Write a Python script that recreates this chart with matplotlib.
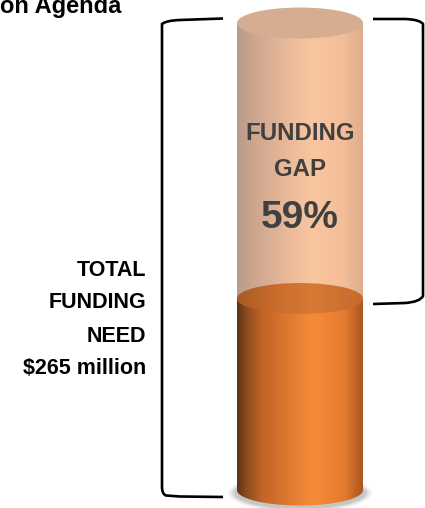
import numpy as np
import matplotlib
matplotlib.use("Agg")
import matplotlib.pyplot as plt
from matplotlib.colors import LinearSegmentedColormap
from matplotlib.patches import Ellipse, PathPatch
from matplotlib.path import Path

# Figures
title_text = "on Agenda"
total_label = ["TOTAL", "FUNDING", "NEED", "$265 million"]
gap_label = ["FUNDING", "GAP"]
total_need_musd = 265
gap_pct = 59
funded_pct = 100 - gap_pct

plt.rcParams['font.family'] = ['Liberation Sans', 'DejaVu Sans']

W, H = 425, 508
fig = plt.figure(figsize=(W / 100, H / 100), dpi=100)
ax = fig.add_axes([0, 0, 1, 1])
ax.set_xlim(0, W)
ax.set_ylim(H, 0)
ax.axis('off')

# cylinder geometry (pixel space)
x0, x1 = 237, 363
cx = (x0 + x1) / 2
rx = (x1 - x0) / 2
ry = 15.5
y_top, y_bot = 23, 490
level = y_bot - funded_pct / 100 * (y_bot - y_top)

peach = LinearSegmentedColormap.from_list("peach", [
    (0.0, "#b89c8c"), (0.12, "#caa58e"), (0.45, "#efbd9b"),
    (0.62, "#f9c6a0"), (0.85, "#f2bd98"), (1.0, "#ddae8e")])
orange = LinearSegmentedColormap.from_list("orange", [
    (0.0, "#5a3217"), (0.07, "#8a4a1f"), (0.2, "#c26426"),
    (0.5, "#ea8236"), (0.62, "#f88b37"), (0.86, "#e27a30"), (1.0, "#a9561d")])
orange_top = LinearSegmentedColormap.from_list("otop", [
    (0.0, "#a85a24"), (0.3, "#c96c2c"), (0.6, "#d87a34"), (1.0, "#c46a2c")])

grad = np.linspace(0, 1, 256).reshape(1, -1)


def body_path(ya, yb, bottom_round=True):
    verts = [(x0, ya), (x1, ya)]
    if bottom_round:
        verts += [(cx + rx * np.cos(a), yb + ry * np.sin(a)) for a in np.linspace(0, np.pi, 60)]
    else:
        verts += [(x1, yb), (x0, yb)]
    verts.append((x0, ya))
    return Path(verts, closed=False)


# shadow under the base
for i, a in enumerate(np.linspace(0.05, 0.25, 6)):
    ax.add_patch(Ellipse((cx, y_bot + 3), 2 * rx + 20 - 3 * i, 2 * ry + 8 - 1.5 * i,
                         facecolor="#808080", edgecolor="none", alpha=a * 0.6, zorder=1))

# funded part
p = PathPatch(body_path(level, y_bot), facecolor="none", edgecolor="none")
ax.add_patch(p)
im = ax.imshow(grad, cmap=orange, extent=(x0, x1, y_bot + ry + 1, level), aspect='auto', zorder=2)
im.set_clip_path(p)

# gap part (upper, translucent)
p2 = PathPatch(body_path(y_top, level, bottom_round=False), facecolor="none", edgecolor="none")
ax.add_patch(p2)
im2 = ax.imshow(grad, cmap=peach, extent=(x0, x1, level, y_top), aspect='auto', zorder=2)
im2.set_clip_path(p2)

# top surface of funded part
e_o = Ellipse((cx, level), 2 * rx, 2 * ry, facecolor="none", edgecolor="none")
ax.add_patch(e_o)
im3 = ax.imshow(grad, cmap=orange_top, extent=(x0, x1, level + ry, level - ry), aspect='auto', zorder=3)
im3.set_clip_path(e_o)

# top lid
ax.add_patch(Ellipse((cx, y_top), 2 * rx, 2 * ry, facecolor="#d7ad92", edgecolor="none", zorder=4))
ax.set_xlim(0, W)
ax.set_ylim(H, 0)

# brackets
lw = 1.9
lx = 162
left = Path([(223, 18.5), (180, 20), (166, 20.5), (162, 24), (lx, 30), (lx, 487),
             (162, 494), (166, 495.5), (180, 496.5), (223, 497)],
            [Path.MOVETO, Path.LINETO, Path.CURVE3, Path.CURVE3, Path.LINETO, Path.LINETO,
             Path.CURVE3, Path.CURVE3, Path.LINETO, Path.LINETO])
ax.add_patch(PathPatch(left, facecolor="none", edgecolor="black", lw=lw, zorder=5))
rx_ = 423
right = Path([(373, 19), (405, 19), (420, 19.5), (rx_, 24), (rx_, 30), (rx_, 296),
              (420, 302), (405, 303), (373, 304)],
             [Path.MOVETO, Path.LINETO, Path.CURVE3, Path.CURVE3, Path.LINETO, Path.LINETO,
              Path.CURVE3, Path.CURVE3, Path.LINETO])
ax.add_patch(PathPatch(right, facecolor="none", edgecolor="black", lw=lw, zorder=5))

# texts
ax.text(0, 13, title_text, ha="left", va="baseline", fontsize=17, fontweight="bold", color="black")
for s, y in zip(total_label, [271, 303, 336, 368]):
    ax.text(146, y, s, ha="right", va="center", fontsize=15.5, fontweight="bold", color="black")
for s, y in zip(gap_label, [133, 169]):
    ax.text(cx, y, s, ha="center", va="center", fontsize=17.3, fontweight="bold", color="#404040", zorder=6)
ax.text(cx, 218, f"{gap_pct}%", ha="center", va="center", fontsize=28, fontweight="bold",
        color="#404040", zorder=6)

fig.savefig("out.png", dpi=100)
